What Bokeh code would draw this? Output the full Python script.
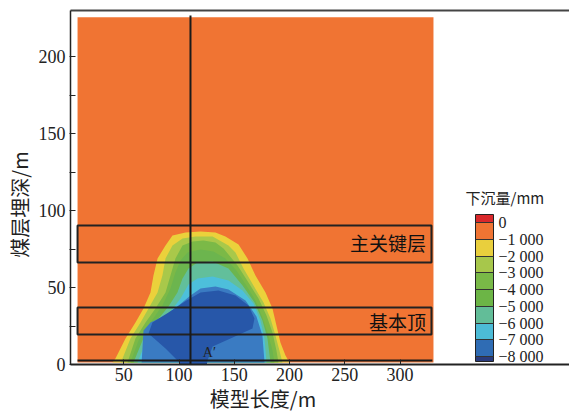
from bokeh.core.properties import value
from bokeh.embed import file_html
from bokeh.models import (AllLabels, ColorBar, FixedTicker, LinearAxis,
                          LinearColorMapper, Range1d)
from bokeh.plotting import figure
from bokeh.resources import INLINE

# ---- model domain (m) ----
model_x = [8.1, 330.2]
model_y = [1.3, 225.6]
base_color = "#f07433"          # 0 ~ -1000 mm

# ---- subsidence contours (mm), outer to inner ----
levels = [-1000, -2000, -3000, -4000, -5000, -6000, -7000, -8000]
band_colors = ["#ebd13b", "#a9c84a", "#7bb947", "#6cb54e",
               "#62bf9b", "#4dbfdb", "#3a7bc2", "#2757a9"]

c1000_x = [39.7, 42.4, 51.5, 60.5, 67.8, 74.1, 76.8, 80.5, 87.7, 94.0, 105.8,
           119.4, 132.9, 141.9, 153.8, 161.9, 169.1, 178.2, 184.5, 188.1,
           191.7, 196.3, 199.9]
c1000_y = [1.3, 3.9, 16.9, 27.3, 36.4, 46.8, 57.8, 68.9, 77.3, 83.8, 85.8,
           86.4, 85.8, 83.2, 78.0, 68.9, 57.8, 46.8, 36.4, 25.3, 14.3, 5.8, 1.3]

c2000_x = [47.0, 48.8, 56.0, 65.1, 72.3, 80.5, 84.9, 87.7, 94.0, 103.1, 114.8,
           130.3, 144.7, 151.0, 158.3, 167.3, 176.4, 182.7, 187.2, 190.8, 193.5]
c2000_y = [1.3, 3.9, 16.9, 27.3, 36.4, 46.8, 57.8, 68.9, 77.3, 81.9, 83.2,
           83.2, 77.3, 72.8, 62.4, 51.3, 40.3, 29.9, 18.8, 9.1, 1.3]

c3000_x = [53.3, 60.5, 69.6, 78.6, 87.7, 92.2, 96.7, 103.1, 112.1, 122.1,
           132.9, 140.2, 152.9, 162.8, 171.9, 179.1, 184.5, 188.1, 189.9]
c3000_y = [1.3, 16.9, 27.3, 36.4, 46.8, 57.8, 68.9, 77.3, 79.9, 80.6,
           79.3, 75.4, 64.3, 53.3, 42.9, 31.8, 20.8, 9.1, 1.3]

c4000_x = [56.0, 63.3, 74.1, 84.9, 92.2, 96.7, 101.3, 107.6, 119.4, 131.1,
           141.9, 151.9, 160.9, 169.1, 175.4, 180.9, 184.5, 186.3]
c4000_y = [1.3, 15.6, 27.3, 38.3, 49.4, 59.8, 67.6, 72.8, 74.7, 73.4,
           68.9, 61.1, 51.3, 41.6, 30.5, 18.8, 9.1, 1.3]

c5000_x = [58.7, 66.9, 78.6, 90.4, 98.5, 103.1, 108.5, 116.6, 130.3, 144.7,
           157.4, 168.3, 175.4, 180.0, 182.7]
c5000_y = [1.3, 15.6, 27.3, 37.7, 46.8, 55.9, 62.4, 66.3, 66.9, 62.4,
           51.3, 40.3, 28.6, 16.9, 1.3]

c6000_x = [62.4, 69.6, 81.4, 92.2, 101.3, 108.5, 116.6, 130.3, 144.7, 157.4,
           167.3, 173.6, 177.3, 179.1]
c6000_y = [1.3, 14.3, 24.7, 34.4, 42.9, 52.0, 55.9, 57.2, 54.6, 48.1,
           39.6, 28.6, 16.9, 1.3]

c7000_x = [66.1, 67.8, 74.1, 87.7, 99.5, 110.3, 119.4, 132.9, 144.7, 160.1,
           170.0, 175.4, 177.3]
c7000_y = [1.3, 22.1, 27.3, 31.8, 38.3, 44.8, 49.4, 50.7, 48.7, 41.6,
           31.2, 18.8, 1.3]

c8000_x = [72.3, 75.9, 90.4, 106.7, 119.4, 135.6, 151.0, 162.8, 168.2, 166.4,
           146.5, 130.3, 125.7, 124.8, 119.4, 110.3, 103.1, 99.5, 87.7]
c8000_y = [20.1, 27.3, 33.8, 41.6, 46.8, 48.1, 44.8, 38.3, 29.9, 23.4,
           16.9, 11.7, 2.6, -1.3, -3.9, -4.5, -1.9, 1.9, 10.4]

contour_xs = [c1000_x, c2000_x, c3000_x, c4000_x, c5000_x, c6000_x, c7000_x, c8000_x]
contour_ys = [c1000_y, c2000_y, c3000_y, c4000_y, c5000_y, c6000_y, c7000_y, c8000_y]

# ---- strata boxes ----
layer_names = ["主关键层", "基本顶"]
layer_top = [90.3, 37.0]
layer_bottom = [66.3, 19.5]
layer_label_y = [79.0, 28.0]
layer_left = 8.1
layer_right = 328.4

# section line and coal seam
section_x = 110.3
seam_y = 2.6
point_label = ["A′"]
point_x = [121.5]
point_y = [7.8]

# ---- legend scale ----
legend_title = "下沉量/mm"
legend_ticks = [0, -1000, -2000, -3000, -4000, -5000, -6000, -7000, -8000]
legend_labels = ["0", "−1 000", "−2 000", "−3 000", "−4 000",
                 "−5 000", "−6 000", "−7 000", "−8 000"]
legend_edges = [500, 0, -1000, -2000, -3000, -4000, -5000, -6000, -7000, -8000, -8300]
legend_colors = ["#d9282b", "#f07433", "#e9cf3d", "#a7c74b", "#79b947",
                 "#6cb546", "#62bd98", "#4cbbd6", "#2f6cb4", "#2a3b7c"]

# ---- axes ----
x_ticks = [50, 100, 150, 200, 250, 300]
y_ticks = [0, 50, 100, 150, 200]
y_minor = [25, 75, 125, 175]
x_lo, x_hi = 1.72, 453.3
y_lo, y_hi = 0, 230
# axis titles; the trailing wide spaces move each title off the frame centre
# (the x title sits under the model, the y title a little lower)
x_title = "模型长度/m" + "\u3000" * 5 + "\u2002\u2009"
y_title = "煤层埋深/m" + "\u3000\u2002\u2009"

SERIF = "Liberation Serif"
CJK = "Noto Sans CJK SC"
INK = "#222222"

p = figure(width=569, height=417, output_backend="svg", toolbar_location=None,
           x_range=Range1d(x_lo, x_hi), y_range=Range1d(y_lo, y_hi),
           min_border_left=70, min_border_right=0, min_border_top=10,
           min_border_bottom=53)
p.outline_line_color = None
p.grid.visible = False
p.background_fill_color = "white"

# base field and contour bands
p.quad(left=[model_x[0]], right=[model_x[1]], bottom=[model_y[0]], top=[model_y[1]],
       fill_color=base_color, line_color=None)
p.patches(xs=contour_xs, ys=contour_ys, fill_color=band_colors, line_color=None)

# strata boxes
p.quad(left=[layer_left] * 2, right=[layer_right] * 2, bottom=layer_bottom,
       top=layer_top, fill_color=None, line_color=INK, line_width=2)
p.text(x=[layer_right - 5] * 2, y=layer_label_y, text=layer_names,
       text_align="right", text_baseline="middle", text_color="#111111",
       text_font=value(CJK), text_font_size="19px")

# section line, seam line
p.segment(x0=[section_x], y0=[0], x1=[section_x], y1=[model_y[1] + 1.2],
          line_color="#1a1a1a", line_width=2)
p.segment(x0=[model_x[0]], y0=[seam_y], x1=[model_x[1] - 1], y1=[seam_y],
          line_color="#1a1a1a", line_width=2)
p.text(x=point_x, y=point_y, text=point_label, text_font=value(SERIF),
       text_font_size="14px", text_color=INK, text_baseline="middle")

# x axis
xa = p.xaxis[0]
xa.ticker = FixedTicker(ticks=x_ticks, minor_ticks=[])
xa.major_tick_in = 5
xa.major_tick_out = 0
xa.minor_tick_line_color = None
xa.axis_line_width = 2
xa.axis_line_color = INK
xa.major_tick_line_color = INK
xa.major_label_standoff = 3
xa.major_label_text_font = SERIF
xa.major_label_text_font_size = "18px"
xa.major_label_text_color = INK
xa.axis_label = x_title
xa.axis_label_standoff = 0
xa.axis_label_text_font = CJK
xa.axis_label_text_font_size = "20px"
xa.axis_label_text_font_style = "normal"
xa.axis_label_text_color = INK

ya = p.yaxis[0]
ya.ticker = FixedTicker(ticks=y_ticks, minor_ticks=y_minor)
ya.major_tick_in = 5
ya.major_tick_out = 1
ya.minor_tick_in = 5
ya.minor_tick_out = 1
ya.axis_line_width = 1.5
ya.axis_line_color = INK
ya.major_tick_line_color = INK
ya.minor_tick_line_color = INK
ya.major_label_standoff = 4
ya.major_label_text_font = SERIF
ya.major_label_text_font_size = "18px"
ya.major_label_text_color = INK
ya.axis_label = y_title
ya.axis_label_standoff = 2
ya.axis_label_text_font = CJK
ya.axis_label_text_font_size = "20px"
ya.axis_label_text_font_style = "normal"
ya.axis_label_text_color = INK

top_axis = LinearAxis(ticker=FixedTicker(ticks=[]), axis_line_color="#444444",
                      axis_line_width=2, major_tick_line_color=None,
                      minor_tick_line_color=None, major_label_text_font_size="0px")
p.add_layout(top_axis, "above")

# legend colour scale built from band edges (100 mm slots)
step = 100
lo, hi = legend_edges[-1], legend_edges[0]
palette = []
v = lo + step / 2
while v < hi:
    for i in range(len(legend_colors)):
        if legend_edges[i] >= v > legend_edges[i + 1]:
            palette.append(legend_colors[i])
            break
    v += step
mapper = LinearColorMapper(palette=palette, low=lo, high=hi)
cb = ColorBar(color_mapper=mapper, orientation="vertical", width=18, height=147,
              location=(405, 3), padding=0,
              ticker=FixedTicker(ticks=legend_ticks, minor_ticks=[]),
              major_label_overrides={t: s for t, s in zip(legend_ticks, legend_labels)},
              major_label_policy=AllLabels(),
              major_label_text_font=SERIF, major_label_text_font_size="16px",
              major_label_text_color=INK, label_standoff=5,
              major_tick_in=18, major_tick_out=0, major_tick_line_color="#333333",
              minor_tick_line_color=None, bar_line_color=INK,
              background_fill_color=None, border_line_color=None)
p.add_layout(cb, "center")
p.text(x=[359.2], y=[108.5], text=[legend_title], text_font=value(CJK),
       text_font_size="15px", text_color=INK, text_baseline="middle")

open("out.html", "w").write(file_html(p, INLINE))
